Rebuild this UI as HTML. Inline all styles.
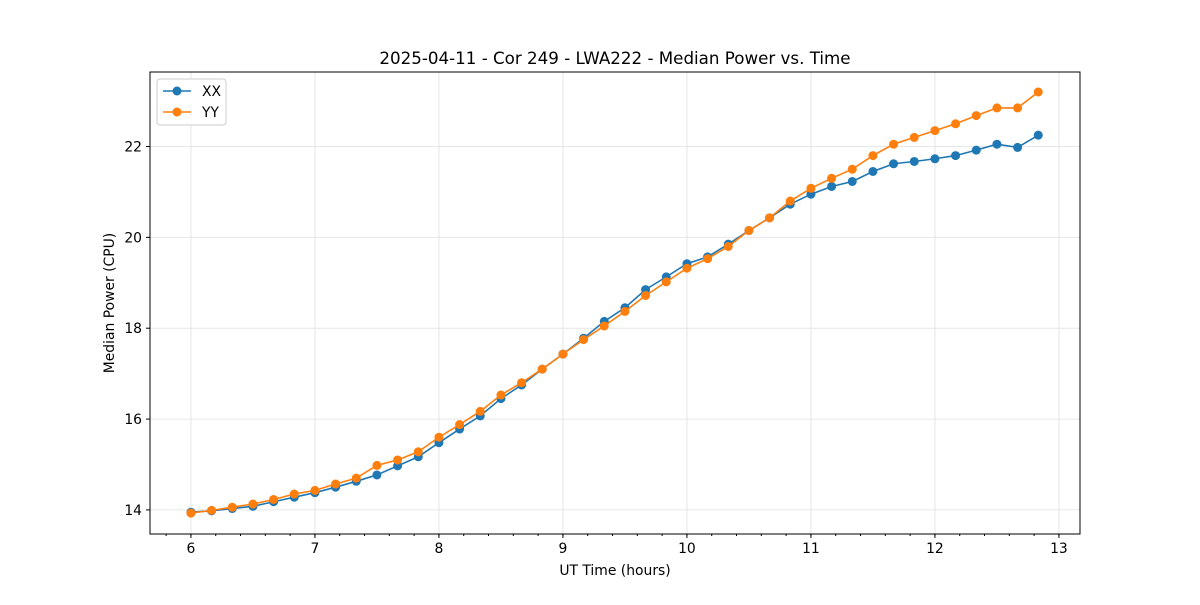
<!DOCTYPE html>
<html><head><meta charset="utf-8"><style>
body{margin:0;background:#fff}
svg text{font-family:"DejaVu Sans","Liberation Sans",sans-serif;fill:#000}
</style></head><body>
<svg id="chart" width="1200" height="600">
<rect width="1200" height="600" fill="#fff"/>
<text x="615" y="64" font-size="16.7" text-anchor="middle">2025-04-11 - Cor 249 - LWA222 - Median Power vs. Time</text>
<g id="grid"></g><g id="series"></g><g id="axes"></g>
<text x="615" y="575" font-size="13.9" text-anchor="middle">UT Time (hours)</text>
<text transform="translate(114,303) rotate(-90)" font-size="13.9" text-anchor="middle">Median Power (CPU)</text>
<g>
<rect x="157" y="79" width="69" height="46" rx="3" fill="#fff" stroke="#ccc"/>
<g><line x1="163" y1="91" x2="191" y2="91" stroke="#1f77b4" stroke-width="1.5"/><circle cx="177" cy="91" r="4.5" fill="#1f77b4"/><text x="202" y="96" font-size="13.9">XX</text></g>
<g><line x1="163" y1="112" x2="191" y2="112" stroke="#ff7f0e" stroke-width="1.5"/><circle cx="177" cy="112" r="4.5" fill="#ff7f0e"/><text x="202" y="117" font-size="13.9">YY</text></g>
</g>
</svg>
<script>
const xx=[13.95,13.98,14.03,14.08,14.18,14.28,14.38,14.5,14.63,14.77,14.97,15.17,15.48,15.78,16.07,16.45,16.75,17.1,17.43,17.78,18.15,18.45,18.85,19.13,19.42,19.57,19.85,20.15,20.43,20.73,20.95,21.12,21.23,21.45,21.62,21.67,21.73,21.8,21.92,22.05,21.98,22.25];
const yy=[13.93,13.99,14.06,14.13,14.23,14.35,14.43,14.57,14.7,14.98,15.1,15.28,15.6,15.88,16.17,16.53,16.8,17.1,17.43,17.75,18.05,18.37,18.72,19.02,19.32,19.53,19.8,20.15,20.43,20.8,21.08,21.3,21.5,21.8,22.05,22.2,22.35,22.5,22.68,22.85,22.85,23.2];
const xTicks=[6,7,8,9,10,11,12,13];
const yTicks=[14,16,18,20,22];
const L=150,R=1080,T=72,B=534,xmin=5.67,xmax=13.17,ymin=13.47,ymax=23.64;
const sx=v=>L+(v-xmin)/(xmax-xmin)*(R-L);
const sy=v=>B-(v-ymin)/(ymax-ymin)*(B-T);
const NS='http://www.w3.org/2000/svg';
function mk(t,a,p){const e=document.createElementNS(NS,t);for(const k in a)e.setAttribute(k,a[k]);p.appendChild(e);return e;}
const grid=document.getElementById('grid'),axes=document.getElementById('axes'),ser=document.getElementById('series');
xTicks.forEach(t=>{const x=sx(t);
const g=mk('line',{x1:x,x2:x,y1:T,y2:B,stroke:'#e6e6e6','stroke-width':1},grid);


mk('line',{x1:x,x2:x,y1:B,y2:B+4,stroke:'#000'},axes);
const tx=mk('text',{x:x,y:B+19,'font-size':13.9,'text-anchor':'middle'},axes);tx.textContent=t;

});
for(let v=5.8;v<13.15;v+=0.2){const x=sx(v);mk('line',{x1:x,x2:x,y1:B,y2:B+2,stroke:'#000'},axes);}
yTicks.forEach(t=>{const y=sy(t);
const g=mk('line',{x1:L,x2:R,y1:y,y2:y,stroke:'#e6e6e6','stroke-width':1},grid);


mk('line',{x1:L-4,x2:L,y1:y,y2:y,stroke:'#000'},axes);
const tx=mk('text',{x:L-8,y:y+5,'font-size':13.9,'text-anchor':'end'},axes);tx.textContent=t;

});
mk('rect',{x:L,y:T,width:R-L,height:B-T,fill:'none',stroke:'#000','stroke-width':1},axes);
function draw(d,c,n){const pts=d.map((v,i)=>sx(6+i/6)+','+sy(v)).join(' ');
const pl=mk('polyline',{points:pts,fill:'none',stroke:c,'stroke-width':1.6},ser);


d.forEach((v,i)=>{const p=mk('circle',{cx:sx(6+i/6),cy:sy(v),r:4.5,fill:c},ser);

});}
draw(xx,'#1f77b4','xx');draw(yy,'#ff7f0e','yy');
</script>
</body></html>
